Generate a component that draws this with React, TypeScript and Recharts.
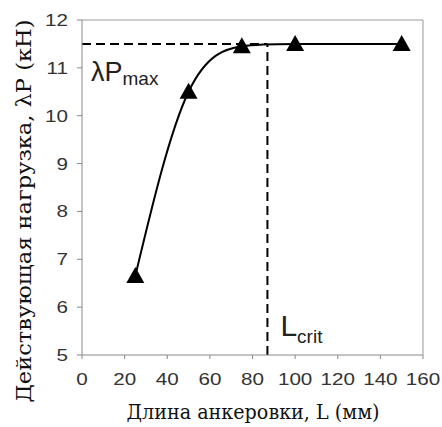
import React from 'react';
import { ComposedChart, Line, XAxis, YAxis, ReferenceLine, Label } from 'recharts';

const lengths = [25, 50, 75, 100, 150];
const loads = [6.65, 10.5, 11.45, 11.5, 11.5];
const xTicks = [0, 20, 40, 60, 80, 100, 120, 140, 160];
const yTicks = [5, 6, 7, 8, 9, 10, 11, 12];
const pMax = 11.5;
const lCrit = 87;

const data = lengths.map((l, i) => ({ L: l, P: loads[i] }));

const serif = "DejaVu Serif";
const sans = "'Liberation Sans', Arial, sans-serif";

const Triangle = (props: any) => {
  const { cx, cy } = props;
  if (cx == null || cy == null) return null;
  return <path d={`M${cx},${cy - 9} L${cx + 9},${cy + 7} L${cx - 9},${cy + 7} Z`} fill="#000" />;
};

const XTick = (props: any) => {
  const { x, y, payload } = props;
  return (
    <g transform={`translate(${x},${y})`}>
      <text x={0} y={0} dy={12} textAnchor="middle" transform="scale(1.25,1)" fontFamily={sans} fontSize={16.5} fill="#333">
        {payload.value}
      </text>
    </g>
  );
};

const YTick = (props: any) => {
  const { x, y, payload } = props;
  return (
    <g transform={`translate(${x},${y})`}>
      <text x={0} y={0} dy={6} textAnchor="end" transform="scale(1.25,1)" fontFamily={sans} fontSize={16.5} fill="#333">
        {payload.value}
      </text>
    </g>
  );
};

export default function App() {
  return (
    <div style={{ position: 'absolute', left: 0, top: 0 }}>
      <ComposedChart width={442} height={427} data={data} margin={{ top: 20, right: 19, left: 0, bottom: 0 }}>
        <XAxis
          dataKey="L"
          type="number"
          domain={[0, 160]}
          ticks={xTicks}
          interval={0}
          height={72}
          stroke="#888"
          tickSize={4}
          tickMargin={14}
          tick={<XTick />}
        >
          <Label
            content={() => (
              <text x={253} y={419} textAnchor="middle" style={{ fontFamily: serif }} fontSize={21} textLength={253} lengthAdjust="spacingAndGlyphs" fill="#111">
                Длина анкеровки, L (мм)
              </text>
            )}
          />
        </XAxis>
        <YAxis
          type="number"
          domain={[5, 12]}
          ticks={yTicks}
          interval={0}
          width={82}
          stroke="#888"
          tickSize={5}
          tickMargin={9}
          tick={<YTick />}
        >
          <Label
            content={() => (
              <text x={31} y={211} transform="rotate(-90, 31, 211)" textAnchor="middle" style={{ fontFamily: serif }} fontSize={21} textLength={383} lengthAdjust="spacingAndGlyphs" fill="#111">
                Действующая нагрузка, λP (кН)
              </text>
            )}
          />
        </YAxis>
        <ReferenceLine y={12} stroke="#999" strokeWidth={1} />
        <ReferenceLine x={160} stroke="#999" strokeWidth={1} />
        <ReferenceLine
          segment={[{ x: 0, y: pMax }, { x: lCrit, y: pMax }]}
          stroke="#000"
          strokeWidth={2}
          strokeDasharray="9 5"
        >
          <Label
            content={(p: any) => {
              const vb = p.viewBox;
              return (
                <text x={vb.x + 9} y={vb.y + 37} fontFamily={sans} fontSize={27} fill="#222">
                  λP
                  <tspan fontSize={19} dy={4}>max</tspan>
                </text>
              );
            }}
          />
        </ReferenceLine>
        <ReferenceLine
          segment={[{ x: lCrit, y: 5 }, { x: lCrit, y: pMax }]}
          stroke="#000"
          strokeWidth={2}
          strokeDasharray="9 5"
        >
          <Label
            content={(p: any) => {
              const vb = p.viewBox;
              return (
                <text x={vb.x + 13} y={vb.y + vb.height - 19} fontFamily={sans} fontSize={30} fill="#222">
                  L
                  <tspan fontSize={19} dy={7}>crit</tspan>
                </text>
              );
            }}
          />
        </ReferenceLine>
        <Line
          dataKey="P"
          type="natural"
          stroke="#000"
          strokeWidth={2}
          dot={<Triangle />}
          activeDot={false}
          isAnimationActive={false}
        />
      </ComposedChart>
    </div>
  );
}
